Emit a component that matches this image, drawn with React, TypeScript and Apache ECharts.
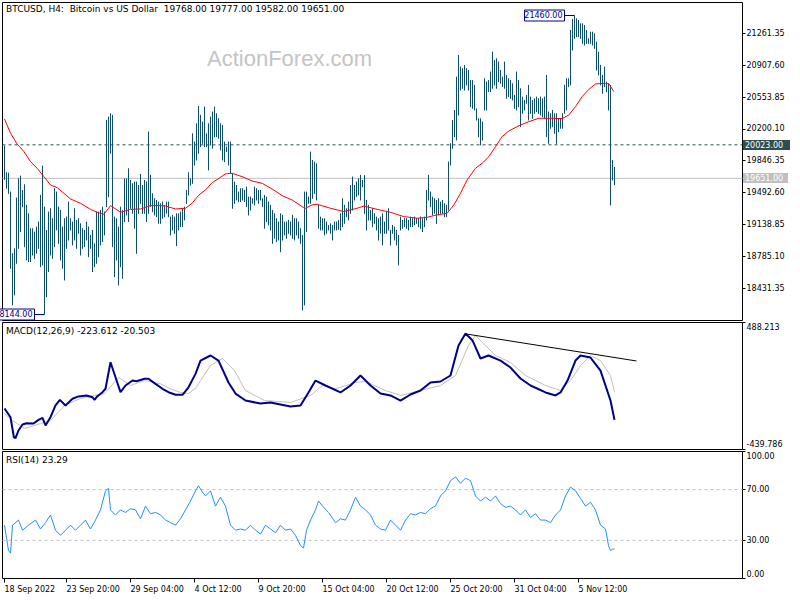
import React, { useEffect, useRef } from "react";
import * as echarts from "echarts";

// ---------- data ----------
const highs = [
  20014, 19718, 19714, 19504, 18819, 18874, 19437, 19651, 19681, 19522,
  19585, 19356, 19263, 19097, 19097, 19060, 19115, 19171, 19467, 19792,
  19337, 19078, 19282, 19319, 19208, 19541, 19504, 19337, 19300, 19115,
  19208, 19226, 19393, 19208, 19171, 19319, 19189, 19208, 19152, 19097,
  19078, 19171, 19115, 19023, 19078, 18930, 19282, 19282, 19300, 19337,
  19282, 20299, 20336, 20373, 20355, 19226, 19208, 19115, 19337, 19300,
  19651, 19651, 19763, 19633, 19596, 19615, 19615, 19577, 19700, 19577,
  19633, 19615, 20170, 19689, 19485, 19430, 19411, 19393, 19374, 19393,
  19356, 19393, 19393, 19226, 19245, 19226, 19263, 19263, 19282, 19319,
  19337, 19522, 19718, 19651, 20151, 20059, 20262, 20454, 20355, 20281,
  20447, 20151, 20262, 20336, 20392, 20447, 20373, 20318, 20262, 20243,
  20059, 20003, 20059, 20059, 19707, 19615, 19577, 19504, 19541, 19541,
  19522, 19559, 19448, 19448, 19430, 19559, 19541, 19522, 19522, 19430,
  19467, 19448, 19393, 19356, 19300, 19263, 19208, 19171, 19263, 19245,
  19171, 19171, 19189, 19171, 19245, 19208, 19208, 19171, 19097, 19023,
  19504, 19504, 19448, 19948, 19855, 19837, 19818, 19356, 19226, 19208,
  19208, 19171, 19134, 19152, 19134, 19171, 19171, 19189, 19263, 19430,
  19356, 19319, 19393, 19577, 19670, 19577, 19615, 19651, 19689, 19633,
  19689, 19411, 19356, 19300, 19319, 19263, 19226, 19208, 19226, 19263,
  19171, 19282, 19319, 19078, 19134, 19115, 19078, 19023, 19226, 19189,
  19208, 19208, 19189, 19226, 19208, 19226, 19208, 19208, 19226, 19208,
  19226, 19522, 19689, 19504, 19448, 19430, 19411, 19430, 19393, 19411,
  19374, 19356, 19837, 20040, 20299, 20410, 20780, 21020, 20891, 20873,
  20910, 20873, 20854, 20743, 20743, 20688, 20428, 20318, 20318, 20281,
  20762, 20725, 20743, 20836, 21057, 20965, 20984, 20947, 20854, 20780,
  20947, 20799, 20762, 20743, 20706, 20577, 20836, 20743, 20651, 20558,
  20521, 20577, 20688, 20558, 20521, 20540, 20558, 20540, 20558, 20540,
  20558, 20799, 20392, 20373, 20410, 20373, 20373, 20318, 20318, 20373,
  20688, 20762, 20762, 21298, 21420, 21460, 21427, 21409, 21372, 21372,
  21353, 21298, 21205, 21279, 21279, 21261, 21168, 21057, 20910, 20799,
  20891, 20725, 20706, 20688, 19855, 19777,
];
const lows = [
  19640, 19541, 19485, 18653, 18246, 18357, 18708, 18874, 19060, 19337,
  18893, 18745, 18727, 18727, 18800, 18763, 18819, 18874, 18671, 18690,
  18144, 18338, 18616, 18800, 18763, 18893, 19078, 18930, 18745, 18653,
  18523, 18874, 18967, 19078, 18912, 18967, 18874, 19041, 18800, 18874,
  18893, 18967, 18782, 18874, 18616, 18671, 18708, 18782, 18912, 18949,
  19023, 19337, 19448, 19929, 18893, 18560, 18745, 18468, 18671, 18542,
  19171, 19245, 19171, 19319, 19263, 19097, 18819, 19263, 19374, 19263,
  19263, 19171, 19263, 19337, 19282, 19245, 19226, 19152, 19152, 19208,
  19226, 19263, 19226, 19023, 19078, 19041, 18904, 19078, 19115, 19115,
  19189, 19374, 19467, 19577, 19596, 19800, 19855, 19929, 20003, 20040,
  20003, 20003, 19744, 20022, 19985, 20114, 20114, 20096, 19966, 19855,
  19837, 19948, 19800, 19707, 19319, 19374, 19411, 19393, 19393, 19411,
  19393, 19337, 19245, 19300, 19374, 19356, 19411, 19374, 19411, 19337,
  19097, 19171, 19134, 19078, 18930, 18986, 18949, 18967, 18837, 18967,
  19023, 18986, 19041, 19023, 18986, 18967, 19023, 18986, 18930, 18190,
  18246, 19060, 19374, 19374, 19430, 19485, 19411, 19097, 19078, 19078,
  19023, 19041, 19078, 19041, 18967, 19078, 19078, 19085, 19078, 19115,
  19152, 19226, 19189, 19263, 19300, 19411, 19448, 19467, 19411, 19559,
  19263, 19078, 19189, 19189, 19115, 19152, 19078, 18967, 19041, 18912,
  19041, 19041, 19078, 18912, 19041, 18967, 18912, 18690, 19078, 19097,
  19115, 19097, 19078, 19115, 19115, 19134, 19152, 19115, 19097, 19060,
  19115, 19189, 19411, 19337, 19245, 19263, 19152, 19245, 19263, 19263,
  19226, 19226, 19300, 19800, 19985, 20114, 20077, 20355, 20632, 20651,
  20632, 20688, 20632, 20447, 20428, 20410, 20299, 20114, 20022, 20077,
  20410, 20410, 20614, 20614, 20651, 20688, 20651, 20725, 20706, 20669,
  20651, 20540, 20558, 20540, 20521, 20428, 20410, 20447, 20225, 20373,
  20410, 20484, 20299, 20373, 20318, 20373, 20392, 20373, 20355, 20336,
  20318, 20114, 20040, 20207, 20225, 20151, 20040, 20170, 20207, 20207,
  20373, 20410, 20669, 20688, 21076, 21205, 21224, 21224, 21205, 21150,
  21131, 21150, 21150, 21150, 21131, 21094, 20854, 20799, 20688, 20595,
  20669, 20614, 20410, 19356, 19633, 19582,
];
// moving average (bar index, price)
const maPoints = [
  [0, 20310], [3, 20151], [6.3, 20033], [9.7, 19948], [13, 19837], [16.3, 19763],
  [19.7, 19670], [23, 19577], [26.3, 19548], [29.7, 19485], [33, 19422], [38, 19374],
  [43, 19307], [46.3, 19274], [49.7, 19252], [53, 19348], [58, 19274], [63, 19307],
  [68, 19311], [73, 19348], [78, 19348], [80.5, 19344], [85.5, 19311], [90.5, 19319],
  [93.8, 19374], [97.2, 19467], [100.5, 19522], [103.8, 19603], [107.2, 19651],
  [110.5, 19700], [113.8, 19707], [118.8, 19670], [123.8, 19622], [128.8, 19596],
  [133.8, 19533], [138.8, 19459], [143.8, 19411], [148.8, 19337], [150.5, 19319],
  [153.8, 19356], [156.3, 19363], [163, 19319], [169.7, 19282], [176.3, 19319],
  [179.7, 19344], [186.3, 19307], [193, 19274], [199.7, 19226], [206.3, 19208],
  [211.3, 19219], [216.3, 19245], [221.3, 19263], [224.7, 19356], [228, 19485],
  [231.3, 19633], [235.5, 19763], [238.8, 19818], [242.2, 19892], [245.5, 20003],
  [248.8, 20114], [252.2, 20177], [257.2, 20236], [262.2, 20281], [267.2, 20318],
  [273.8, 20318], [278.8, 20314], [282.2, 20355], [285.5, 20447], [288.8, 20558],
  [292.2, 20639], [295.5, 20699], [300.5, 20706], [302.2, 20699], [304.7, 20614],
];
const macdPoints = [
  [0, -140], [3, -204], [4.7, -350], [5.5, -357], [7, -301], [9, -257], [11, -248],
  [14.5, -250], [17, -223], [19, -208], [20.5, -264], [23, -204], [25.5, -118],
  [27.7, -77], [30.5, -118], [34, -69], [37, -52], [41, -45], [44, -58], [45, -77],
  [46.3, -52], [49, -21], [50.5, 4], [53, 198], [55.5, 88], [58, -21], [60.5, 28],
  [64, 64], [66, 59], [70, 77], [72, 77], [75.5, 40], [79, 4], [82, -21], [85.5, -40],
  [89, -40], [92, 15], [95.5, 113], [98, 210], [103, 247], [107, 210], [112, 50],
  [115.5, -31], [120.5, -82], [128, -104], [133, -96], [138, -111], [143, -126],
  [148, -118], [152, -23], [155.5, 64], [160.5, 28], [168, -23], [173, 28], [178, 101],
  [183, 28], [188, -31], [193, -45], [198, -82], [203, -38], [208, -9], [213, 50],
  [218, 57], [223, 101], [227, 320], [230.5, 408], [234, 357], [238, 225], [242, 247],
  [248, 210], [253, 159], [258, 79], [263, 28], [270.5, -23], [275.5, -45], [278, -23],
  [281.5, 64], [285.5, 210], [288, 247], [293, 232], [298, 137], [303, -82], [305, -223.612],
];
const signalPoints = [
  [0, -177], [4, -228], [10, -286], [18, -250], [23, -228], [30, -118], [38, -67],
  [45, -45], [50, -31], [57, 86], [63, 28], [70, 64], [78, 40], [83, 4], [88, -23],
  [92, -31], [96, 13], [98, 64], [103, 174], [109, 225], [115, 137], [120.5, -9],
  [130, -82], [143, -96], [153, -45], [159, 28], [165.5, 4], [175.5, 50], [180.5, 57],
  [190.5, -9], [198, -45], [208, -9], [218, 28], [225.5, 101], [232, 320], [235.5, 393],
  [240.5, 320], [245.5, 247], [253, 196], [260.5, 101], [270.5, 28], [278, -9], [283, 64],
  [288, 174], [293, 247], [298, 210], [303, 101], [305, -20.503],
];
const rsiPoints = [
  [0, 42], [2, 22], [3, 20], [4, 42], [7, 46], [9, 38], [12, 42], [15.5, 46], [18, 39],
  [20.5, 44], [23, 50], [25.5, 38], [28, 34], [30.5, 38], [33, 42], [35.5, 38], [38, 42],
  [40.5, 46], [43, 39], [45.5, 46], [48, 54], [50.5, 69], [52, 71], [53, 54], [55.5, 50],
  [58, 54], [60.5, 52], [63, 55], [65.5, 54], [68, 47], [70.5, 57], [73, 51], [75.5, 52],
  [78, 50], [80.5, 46], [83, 44], [85.5, 42], [88, 47], [90.5, 54], [93, 61], [95.5, 69],
  [97, 73], [99, 68], [100.5, 65], [103, 69], [105.5, 57], [108, 64], [110.5, 57],
  [113, 42], [115.5, 38], [118, 39], [120.5, 38], [123, 42], [125.5, 38], [128, 35],
  [130.5, 42], [133, 39], [135.5, 36], [138, 42], [140.5, 38], [143, 39], [145.5, 34],
  [148, 26], [149.5, 24], [151, 38], [153, 46], [155.5, 54], [157, 61], [159, 57],
  [162, 52], [165.5, 44], [168, 47], [170.5, 46], [173, 54], [175.5, 64], [178, 57],
  [180.5, 54], [183, 50], [185.5, 42], [188, 39], [190.5, 38], [193, 46], [195.5, 42],
  [198, 38], [200.5, 46], [203, 51], [205.5, 50], [208, 52], [210.5, 51], [213, 55],
  [215.5, 57], [218, 65], [220.5, 69], [223, 77], [225.5, 80], [228, 75], [230.5, 79],
  [233, 77], [235.5, 65], [238, 61], [240.5, 64], [243, 61], [245.5, 65], [248, 59],
  [250.5, 56], [253, 57], [255.5, 54], [258, 50], [260.5, 54], [263, 48], [265.5, 51],
  [268, 46], [270.5, 46], [273, 44], [275.5, 50], [278, 54], [280.5, 65], [283, 72],
  [285.5, 69], [288, 63], [290.5, 57], [293, 60], [295.5, 54], [298, 42], [300.5, 39],
  [302, 26], [303, 22], [304, 23], [305, 23.29],
];
const trendLine = [[231, 404], [316, 207]];
const priceTicks = [21261.35, 20907.6, 20553.85, 20200.1, 19846.35, 19492.6, 19138.85, 18785.1, 18431.35];
const dateTickIdx = [0, 31, 63, 95, 127, 159, 191, 223, 255, 287];
const dateTickLabels = [
  "18 Sep 2022", "23 Sep 20:00", "29 Sep 04:00", "4 Oct 12:00", "9 Oct 20:00",
  "15 Oct 04:00", "20 Oct 12:00", "25 Oct 20:00", "31 Oct 04:00", "5 Nov 12:00",
];
const macdMax = 488.213;
const macdMin = -439.786;
const rsiTicks = [100, 70, 30, 0];
const rsiLevels = [70, 30];
const alertLevel = 20023.0;
const lastPrice = 19651.0;
const lastOHLC = [19768.0, 19777.0, 19582.0, 19651.0];
const macdTitleValues = [-223.612, -20.503];
const rsiTitleValue = 23.29;

// ---------- styling ----------
const FONT = "DejaVu Sans";
const BAR = "#0F4D6C";
const XMIN = -1;
const XMAX = 369;

export default function App() {
  const ref = useRef<HTMLDivElement>(null);
  useEffect(() => {
    const chart = echarts.init(ref.current as HTMLDivElement, null, { renderer: "svg" });
    const hiddenX = (g: number) => ({
      type: "value", gridIndex: g, min: XMIN, max: XMAX,
      axisLine: { show: false, onZero: false }, axisTick: { show: false }, axisLabel: { show: false }, splitLine: { show: false },
    });
    const lbl = { fontFamily: FONT, fontSize: 8, color: "#000" };
    const barData = highs.map((h, i) => [i, h, lows[i]]);
    const option: any = {
      animation: false,
      backgroundColor: "#fff",
      grid: [
        { left: 2.5, top: 2.5, width: 740, height: 318, show: true, borderColor: "#000", borderWidth: 1 },
        { left: 2.5, top: 322.5, width: 740, height: 127, show: true, borderColor: "#000", borderWidth: 1 },
        { left: 2.5, top: 451.5, width: 740, height: 127, show: true, borderColor: "#000", borderWidth: 1 },
      ],
      xAxis: [
        hiddenX(0),
        hiddenX(1),
        {
          type: "value", gridIndex: 2, min: XMIN, max: XMAX, position: "bottom",
          axisLine: { show: false, onZero: false }, splitLine: { show: false },
          axisTick: { show: true, customValues: dateTickIdx, length: 4, lineStyle: { color: "#000" } },
          axisLabel: {
            ...lbl, customValues: dateTickIdx, align: "left", margin: 7,
            formatter: (v: number) => dateTickLabels[dateTickIdx.indexOf(Math.round(v))] ?? "",
          },
        },
      ],
      yAxis: [
        {
          type: "value", gridIndex: 0, position: "right", min: 18073, max: 21603,
          axisLine: { show: false, onZero: false }, splitLine: { show: false },
          axisTick: { show: true, customValues: priceTicks, length: 3, lineStyle: { color: "#000" } },
          axisLabel: { ...lbl, customValues: priceTicks, margin: 4, formatter: (v: number) => v.toFixed(2) },
        },
        {
          type: "value", gridIndex: 1, position: "right", min: macdMin, max: macdMax,
          axisLine: { show: false, onZero: false }, splitLine: { show: false },
          axisTick: { show: true, customValues: [macdMax - 0.01, macdMin + 0.01], length: 3, lineStyle: { color: "#000" } },
          axisLabel: {
            ...lbl, customValues: [macdMax - 0.01, macdMin + 0.01], margin: 4,
            formatter: (v: number) => (v > 0 ? "{t|" + macdMax.toFixed(3) + "}" : "{b|" + macdMin.toFixed(3) + "}"),
            rich: {
              t: { fontFamily: FONT, fontSize: 8, color: "#000", padding: [10, 0, 0, 0] },
              b: { fontFamily: FONT, fontSize: 8, color: "#000", padding: [0, 0, 10, 0] },
            },
          },
        },
        {
          type: "value", gridIndex: 2, position: "right", min: 0, max: 100,
          axisLine: { show: false, onZero: false }, splitLine: { show: false },
          axisTick: { show: true, customValues: [99.99, 70, 30, 0.01], length: 3, lineStyle: { color: "#000" } },
          axisLabel: {
            ...lbl, customValues: [99.99, 70, 30, 0.01], margin: 4,
            formatter: (v: number) => {
              const r = rsiTicks.reduce((a, b) => (Math.abs(b - v) < Math.abs(a - v) ? b : a));
              const s = r.toFixed(2);
              if (r === 100) return "{t|" + s + "}";
              if (r === 0) return "{b|" + s + "}";
              return "{m|" + s + "}";
            },
            rich: {
              t: { fontFamily: FONT, fontSize: 8, color: "#000", padding: [10, 0, 0, 0] },
              b: { fontFamily: FONT, fontSize: 8, color: "#000", padding: [0, 0, 8, 0] },
              m: { fontFamily: FONT, fontSize: 8, color: "#000" },
            },
          },
        },
      ],
      series: [
        {
          type: "line", xAxisIndex: 0, yAxisIndex: 0, z: 1, showSymbol: false, silent: true,
          data: [[XMIN, alertLevel], [XMAX, alertLevel]],
          lineStyle: { color: "#2F4F4F", width: 1, type: [3, 3] },
        },
        {
          type: "line", xAxisIndex: 0, yAxisIndex: 0, z: 1, showSymbol: false, silent: true,
          data: [[XMIN, lastPrice], [XMAX, lastPrice]],
          lineStyle: { color: "#C0C0C0", width: 1 },
        },
        {
          type: "custom", xAxisIndex: 0, yAxisIndex: 0, z: 2, silent: true,
          data: barData,
          encode: { x: 0, y: [1, 2] },
          renderItem: (_p: any, api: any) => {
            const i = api.value(0);
            const a = api.coord([i, api.value(1)]);
            const b = api.coord([i, api.value(2)]);
            const x = Math.round(a[0] - 0.5) + 0.5;
            return {
              type: "line",
              shape: { x1: x, y1: a[1], x2: x, y2: b[1] + 0.5 },
              style: { stroke: BAR, lineWidth: 1 },
            };
          },
        },
        {
          type: "line", xAxisIndex: 0, yAxisIndex: 0, z: 3, showSymbol: false, silent: true,
          data: maPoints, lineStyle: { color: "#FF0000", width: 1 },
        },
        {
          type: "line", xAxisIndex: 1, yAxisIndex: 1, z: 2, showSymbol: false, silent: true,
          data: signalPoints, lineStyle: { color: "#C0C0C0", width: 1 },
        },
        {
          type: "line", xAxisIndex: 1, yAxisIndex: 1, z: 3, showSymbol: false, silent: true,
          data: macdPoints, lineStyle: { color: "#00008B", width: 2 },
        },
        {
          type: "line", xAxisIndex: 1, yAxisIndex: 1, z: 4, showSymbol: false, silent: true,
          data: trendLine, lineStyle: { color: "#000", width: 1 },
        },
        ...rsiLevels.map((lv) => ({
          type: "line", xAxisIndex: 2, yAxisIndex: 2, z: 1, showSymbol: false, silent: true,
          data: [[XMIN, lv], [XMAX, lv]],
          lineStyle: { color: "#C0C0C0", width: 1, type: [3, 3] },
        })),
        {
          type: "line", xAxisIndex: 2, yAxisIndex: 2, z: 3, showSymbol: false, silent: true,
          data: rsiPoints, lineStyle: { color: "#1E90FF", width: 1 },
        },
      ],
    };
    chart.setOption(option);

    // annotations positioned through the chart's own scales
    let hiIdx = 0;
    let loIdx = 0;
    highs.forEach((h, i) => { if (h > highs[hiIdx]) hiIdx = i; });
    lows.forEach((l, i) => { if (l < lows[loIdx]) loIdx = i; });
    const ph = chart.convertToPixel({ gridIndex: 0 }, [hiIdx, highs[hiIdx]]) as number[];
    const pl = chart.convertToPixel({ gridIndex: 0 }, [loIdx, lows[loIdx]]) as number[];
    const pa = chart.convertToPixel({ gridIndex: 0 }, [XMAX, alertLevel]) as number[];
    const pb = chart.convertToPixel({ gridIndex: 0 }, [XMAX, lastPrice]) as number[];
    const txt = (text: string, x: number, y: number, fill: string, size = 8, extra: any = {}) => ({
      type: "text", z: 100, silent: true,
      style: { text, x, y, fill, fontFamily: FONT, fontSize: size, verticalAlign: "middle", align: "left", ...extra },
    });
    const priceBox = (value: number, px: number[]) => {
      const bx = Math.round(px[0]) - 10.5;
      const by = Math.round(px[1]) + 0.5;
      return [
        { type: "line", z: 99, silent: true, shape: { x1: bx, y1: by, x2: px[0], y2: by }, style: { stroke: "#00008B", lineWidth: 1 } },
        { type: "rect", z: 99, silent: true, shape: { x: bx - 40, y: by - 5.5, width: 40, height: 11 }, style: { fill: "#fff", stroke: "#00008B", lineWidth: 1 } },
        txt(value.toFixed(2), bx - 2, by, "#00008B", 8, { align: "right" }),
      ];
    };
    const axisBox = (value: number, py: number, bg: string, w: number) => {
      const y = Math.round(py);
      return [
        { type: "rect", z: 99, silent: true, shape: { x: 743, y: y - 5, width: w, height: 10 }, style: { fill: bg } },
        txt(value.toFixed(2), 745, y, "#fff"),
      ];
    };
    chart.setOption({
      graphic: [
        {
          type: "text", z: 0, silent: true,
          style: { text: "ActionForex.com", x: 207, y: 58, fill: "#C4C4C4", fontFamily: "Liberation Sans", fontSize: 22, verticalAlign: "middle" },
        },
        txt("BTCUSD, H4:  Bitcoin vs US Dollar  " + lastOHLC.map((v) => v.toFixed(2)).join(" "), 6, 9, "#000", 9),
        txt("MACD(12,26,9) " + macdTitleValues.map((v) => v.toFixed(3)).join(" "), 6, 331, "#000", 9),
        txt("RSI(14) " + rsiTitleValue.toFixed(2), 6, 460, "#000", 9),
        ...priceBox(highs[hiIdx], ph),
        ...priceBox(lows[loIdx], pl),
        ...axisBox(alertLevel, pa[1], "#2F4F4F", 47),
        ...axisBox(lastPrice, pb[1], "#C0C0C0", 45),
      ],
    });
    return () => chart.dispose();
  }, []);
  return (
    <div
      ref={ref}
      style={{ position: "fixed", left: 0, top: 0, width: 800, height: 600, background: "#fff" }}
    />
  );
}
